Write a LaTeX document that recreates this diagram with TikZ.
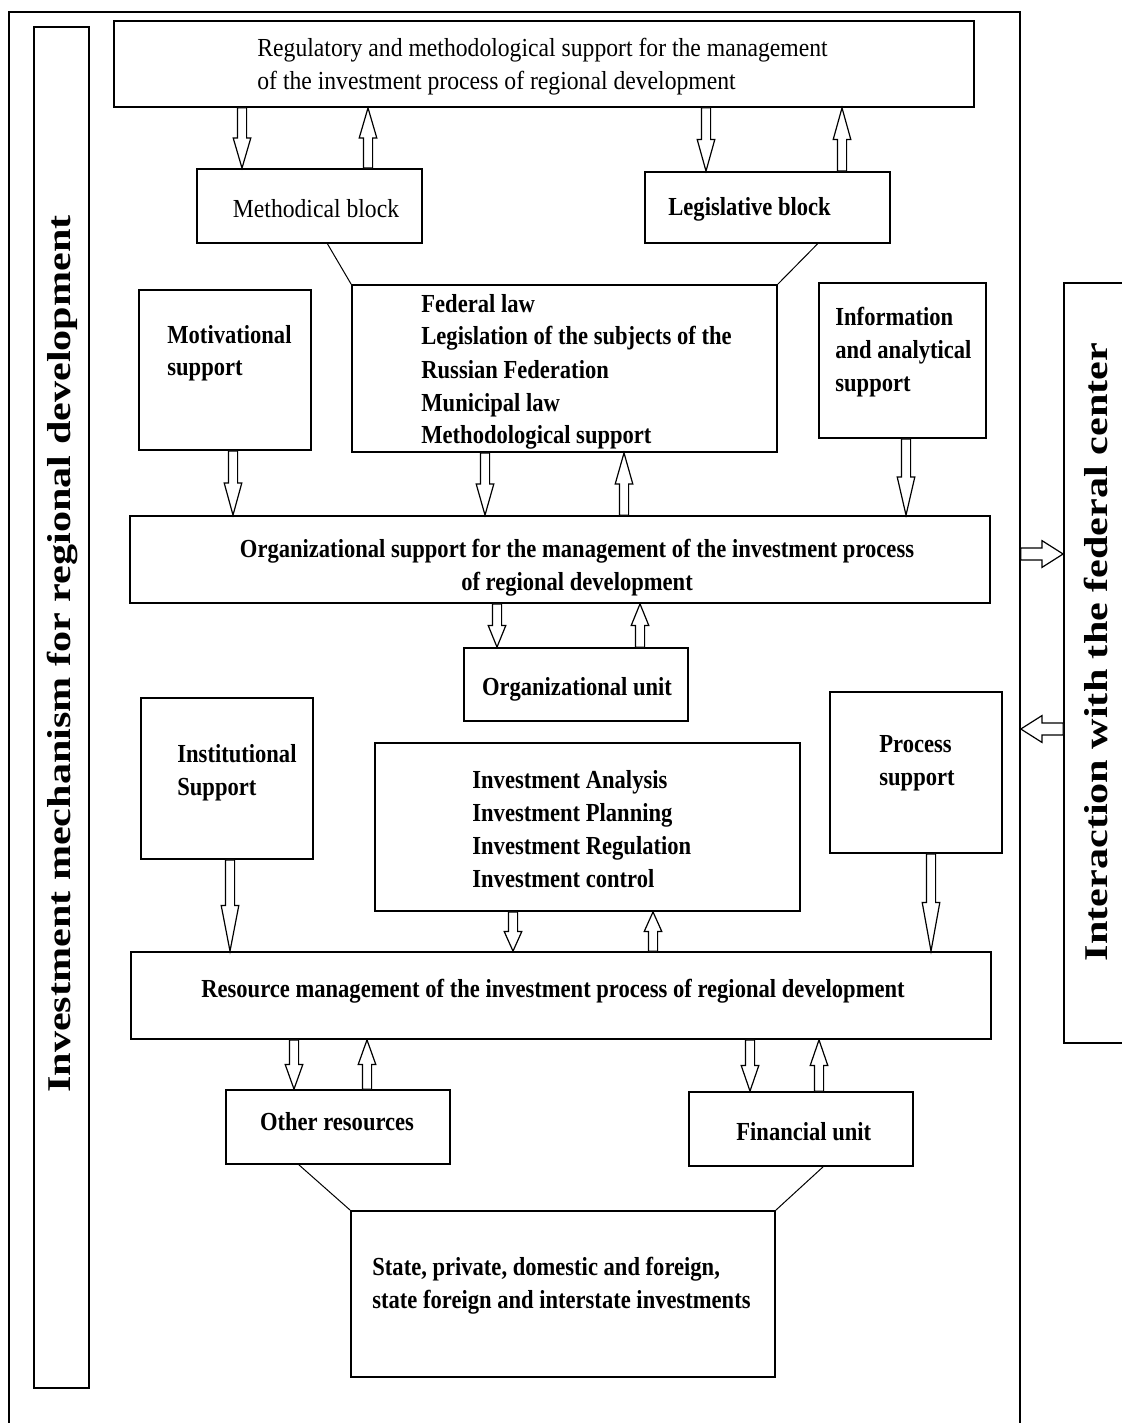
\documentclass[tikz,border=0pt]{standalone}
\usepackage{fontspec}
\setmainfont{Liberation Serif}[FakeStretch=0.91, BoldFeatures={FakeStretch=0.868}]
\newfontfamily\sidefont{Liberation Serif}[FakeStretch=1.27]
\usetikzlibrary{calc,fit}

% one unit = one pixel of the layout grid, y grows downwards
\tikzset{
  x=0.5pt, y=-0.5pt,
  box/.style={draw, line width=0.9pt, inner sep=0pt},
  frameline/.style={draw, line width=0.8pt, inner sep=0pt},
  lbl/.style={inner sep=0pt, anchor=base west, font=\fontsize{13}{16.5}\selectfont\bfseries},
  clbl/.style={lbl, anchor=base},
  plain/.style={font=\fontsize{13}{16.5}\selectfont\mdseries},
  side/.style={inner sep=0pt, rotate=90, font=\sidefont\fontsize{16.6}{20}\selectfont\bfseries},
  blockarrow/.style={draw, line width=0.6pt, fill=white, line join=miter},
  link/.style={draw, line width=0.5pt},
}

% rectangle given by two opposite corners
\newcommand\boxat[5]{\node[box, fit={(#2,#3) (#4,#5)}] (#1) {};}
% left-aligned and centred line stacks
\newcommand\stackL[1]{\begin{tabular}[t]{@{}l@{}}#1\end{tabular}}
\newcommand\stackC[1]{\begin{tabular}[t]{@{}c@{}}#1\end{tabular}}

% hollow vertical block arrow at column #1, from anchor #2 to anchor #3
\newcommand\vblock[3]{%
  \path (#1,0) coordinate (ax);
  \draw[blockarrow] let \p1=(ax |- #2), \p2=(ax |- #3), \p3=($(\p1)!0.5!(\p2)$) in
    (\x1-2.3pt,\y1) -- (\x1-2.3pt,\y3) -- (\x1-4.4pt,\y3) -- (\x2,\y2)
    -- (\x1+4.4pt,\y3) -- (\x1+2.3pt,\y3) -- (\x1+2.3pt,\y1) -- cycle;
}
% hollow horizontal block arrow at row #1, from anchor #2 to anchor #3
\newcommand\hblock[3]{%
  \path (0,#1) coordinate (ay);
  \draw[blockarrow] let \p1=(#2 |- ay), \p2=(#3 |- ay), \p3=($(\p1)!0.5!(\p2)$) in
    (\x1,\y1-3pt) -- (\x3,\y1-3pt) -- (\x3,\y1-6.7pt) -- (\x2,\y2)
    -- (\x3,\y1+6.7pt) -- (\x3,\y1+3pt) -- (\x1,\y1+3pt) -- cycle;
}

\begin{document}
\begin{tikzpicture}
\useasboundingbox (0,0) rectangle (1121,1423);

% outer frame and the two side bars
\node[frameline, fit={(9,12) (1020,1450)}] (frame) {};
\boxat{lbar}{34}{27}{89}{1388}
\boxat{rbar}{1064}{283}{1127}{1043}
\node[side] (lbar-t) at (62,654) {Investment mechanism for regional development};
\node[side] (rbar-t) at (1096,652) {Interaction with the federal center};

% regulatory level
\boxat{reg}{114}{21}{974}{107}
\node[lbl, plain] (reg-t) at (257,57) {\stackL{Regulatory and methodological support for the management\\of the investment process of regional development}};
\boxat{meth}{197}{169}{422}{243}
\node[clbl, plain] (meth-t) at (316,218) {Methodical block};
\boxat{leg}{645}{172}{890}{243}
\node[lbl] (leg-t) at (668,216) {Legislative block};

\boxat{fed}{352}{285}{777}{452}
\node[lbl] (fed-t) at (421,312) {\stackL{Federal law\\Legislation of the subjects of the\\Russian Federation\\Municipal law\\Methodological support}};
\boxat{motiv}{139}{290}{311}{450}
\node[lbl] (motiv-t) at (167,343) {\stackL{Motivational\\support}};
\boxat{info}{819}{283}{986}{438}
\node[lbl] (info-t) at (835,325) {\stackL{Information\\and analytical\\support}};

% organizational level
\boxat{org}{130}{516}{990}{603}
\node[clbl] (org-t) at (577,557) {\stackC{Organizational support for the management of the investment process\\of regional development}};
\boxat{ounit}{464}{648}{688}{721}
\node[clbl] (ounit-t) at (577,695) {Organizational unit};

\boxat{inst}{141}{698}{313}{859}
\node[lbl] (inst-t) at (177,762) {\stackL{Institutional\\Support}};
\boxat{inv}{375}{743}{800}{911}
\node[lbl] (inv-t) at (472,788) {\stackL{Investment Analysis\\Investment Planning\\Investment Regulation\\Investment control}};
\boxat{proc}{830}{692}{1002}{853}
\node[lbl] (proc-t) at (879,752) {\stackL{Process\\support}};

% resource level
\boxat{res}{131}{952}{991}{1039}
\node[clbl] (res-t) at (553,997) {Resource management of the investment process of regional development};
\boxat{other}{226}{1090}{450}{1164}
\node[clbl] (other-t) at (337,1130) {Other resources};
\boxat{fin}{689}{1092}{913}{1166}
\node[lbl] (fin-t) at (736,1140) {Financial unit};
\boxat{src}{351}{1211}{775}{1377}
\node[lbl] (src-t) at (372,1275) {\stackL{State, private, domestic and foreign,\\state foreign and interstate investments}};

% thin links between blocks
\draw[link] ($(meth.south)+(18,0)$) -- (fed.north west);
\draw[link] ($(leg.south)+(50,0)$) -- (fed.north east);
\draw[link] ($(other.south)+(-39,0)$) -- (src.north west);
\draw[link] ($(fin.south)+(22,0)$) -- (src.north east);

% block arrows
\vblock{242}{reg.south}{meth.north}
\vblock{368}{meth.north}{reg.south}
\vblock{706}{reg.south}{leg.north}
\vblock{842}{leg.north}{reg.south}

\vblock{233}{motiv.south}{org.north}
\vblock{485}{fed.south}{org.north}
\vblock{624}{org.north}{fed.south}
\vblock{906}{info.south}{org.north}

\vblock{497}{org.south}{ounit.north}
\vblock{640}{ounit.north}{org.south}

\vblock{230}{inst.south}{res.north}
\vblock{513}{inv.south}{res.north}
\vblock{653}{res.north}{inv.south}
\vblock{931}{proc.south}{res.north}

\vblock{294}{res.south}{other.north}
\vblock{367}{other.north}{res.south}
\vblock{750}{res.south}{fin.north}
\vblock{819}{fin.north}{res.south}

\hblock{554}{frame.east}{rbar.west}
\hblock{729}{rbar.west}{frame.east}
\end{tikzpicture}
\end{document}
